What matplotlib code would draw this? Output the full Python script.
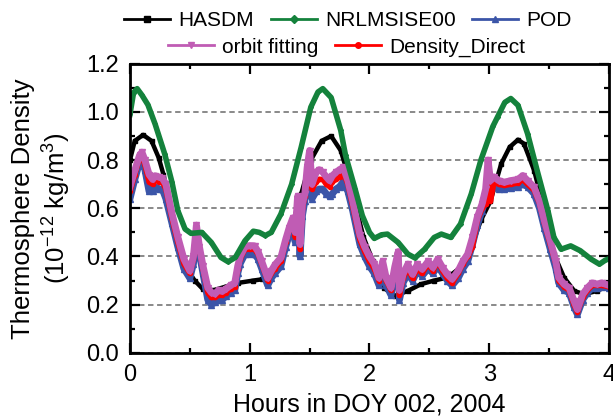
import matplotlib
matplotlib.use('Agg')
import matplotlib.pyplot as plt
from matplotlib.ticker import MultipleLocator

plt.rcParams['font.family'] = ['Liberation Sans', 'DejaVu Sans']
plt.rcParams['mathtext.default'] = 'regular'

# NRLMSISE00
t_nrl = [0.00, 0.03, 0.06, 0.10, 0.15, 0.21, 0.29, 0.35, 0.40, 0.46, 0.51, 0.60, 0.68,
         0.76, 0.82, 0.88, 0.96, 1.03, 1.08, 1.13, 1.18, 1.26, 1.35, 1.43, 1.51, 1.57,
         1.61, 1.68, 1.76, 1.80, 1.88, 1.94, 2.00, 2.04, 2.10, 2.15, 2.24, 2.32, 2.38,
         2.46, 2.54, 2.60, 2.68, 2.76, 2.85, 2.93, 3.03, 3.07, 3.13, 3.18, 3.24, 3.32,
         3.40, 3.49, 3.54, 3.60, 3.68, 3.76, 3.85, 3.92, 3.97, 4.00]
d_nrl = [0.99, 1.08, 1.097, 1.07, 1.03, 0.95, 0.826, 0.71, 0.59, 0.514, 0.496, 0.50, 0.458,
         0.396, 0.378, 0.396, 0.465, 0.505, 0.50, 0.487, 0.50, 0.576, 0.70, 0.854, 1.02, 1.083,
         1.097, 1.06, 0.924, 0.82, 0.68, 0.57, 0.50, 0.475, 0.49, 0.493, 0.458, 0.41, 0.394,
         0.43, 0.479, 0.493, 0.479, 0.535, 0.66, 0.80, 0.94, 0.98, 1.04, 1.056, 1.028, 0.91,
         0.757, 0.59, 0.479, 0.43, 0.444, 0.424, 0.389, 0.368, 0.385, 0.39]

# HASDM
t_has = [0.00, 0.04, 0.11, 0.18, 0.24, 0.28, 0.33, 0.40, 0.47, 0.54, 0.61, 0.70, 0.80,
         0.90, 1.03, 1.10, 1.18, 1.26, 1.35, 1.43, 1.51, 1.60, 1.68, 1.76, 1.82, 1.88,
         1.95, 2.03, 2.12, 2.21, 2.32, 2.43, 2.54, 2.65, 2.76, 2.85, 2.93, 3.01, 3.10,
         3.17, 3.24, 3.29, 3.375, 3.46, 3.54, 3.625, 3.71, 3.79, 3.90, 4.00]
d_has = [0.80, 0.88, 0.905, 0.88, 0.81, 0.74, 0.62, 0.47, 0.354, 0.30, 0.264, 0.26, 0.275,
         0.29, 0.30, 0.305, 0.32, 0.38, 0.52, 0.66, 0.80, 0.88, 0.90, 0.84, 0.74, 0.62,
         0.48, 0.38, 0.27, 0.236, 0.257, 0.285, 0.30, 0.3125, 0.354, 0.4375, 0.55, 0.63, 0.785,
         0.854, 0.885, 0.868, 0.757, 0.59, 0.41, 0.3125, 0.257, 0.243, 0.257, 0.28]

# orbit fitting / POD / Density_Direct share the same time stamps
t_obs = [0.00, 0.04, 0.08, 0.10, 0.125, 0.16, 0.19, 0.21, 0.24, 0.27, 0.30, 0.35, 0.40,
         0.45, 0.50, 0.53, 0.555, 0.58, 0.61, 0.65, 0.68, 0.71, 0.74, 0.77, 0.80, 0.84,
         0.875, 0.90, 0.92, 0.96, 1.00, 1.04, 1.07, 1.10, 1.15, 1.18, 1.21, 1.26, 1.30,
         1.33, 1.36, 1.38, 1.40, 1.42, 1.44, 1.46, 1.48, 1.50, 1.52, 1.555, 1.58, 1.61,
         1.64, 1.667, 1.69, 1.72, 1.75, 1.78, 1.82, 1.86, 1.92, 1.96, 2.00, 2.04, 2.08,
         2.11, 2.14, 2.18, 2.21, 2.24, 2.25, 2.28, 2.32, 2.36, 2.40, 2.44, 2.49, 2.53,
         2.57, 2.61, 2.65, 2.69, 2.74, 2.78, 2.82, 2.86, 2.90, 2.94, 2.97, 2.99, 3.01,
         3.04, 3.08, 3.125, 3.18, 3.24, 3.28, 3.32, 3.375, 3.42, 3.46, 3.51, 3.556, 3.58,
         3.625, 3.667, 3.708, 3.736, 3.78, 3.82, 3.86, 3.90, 3.94, 4.00]
d_fit = [0.69, 0.757, 0.82, 0.833, 0.80, 0.74, 0.72, 0.735, 0.73, 0.725, 0.70, 0.58, 0.48,
         0.39, 0.34, 0.40, 0.53, 0.44, 0.36, 0.27, 0.25, 0.245, 0.26, 0.255, 0.265, 0.28,
         0.29, 0.36, 0.40, 0.44, 0.445, 0.444, 0.42, 0.38, 0.31, 0.34, 0.365, 0.395, 0.47,
         0.52, 0.56, 0.50, 0.65, 0.45, 0.62, 0.66, 0.77, 0.84, 0.70, 0.75, 0.76, 0.75,
         0.73, 0.715, 0.735, 0.75, 0.76, 0.77, 0.715, 0.63, 0.49, 0.44, 0.40, 0.37, 0.31,
         0.38, 0.31, 0.27, 0.354, 0.42, 0.26, 0.326, 0.368, 0.326, 0.368, 0.347, 0.38, 0.354,
         0.389, 0.354, 0.326, 0.306, 0.34, 0.38, 0.41, 0.479, 0.5625, 0.618, 0.68, 0.80, 0.715,
         0.73, 0.715, 0.708, 0.715, 0.72, 0.736, 0.715, 0.6875, 0.63, 0.55, 0.465, 0.38, 0.3125,
         0.285, 0.27, 0.215, 0.18, 0.243, 0.27, 0.29, 0.285, 0.29, 0.28]
d_pod = [0.64, 0.72, 0.79, 0.80, 0.76, 0.67, 0.67, 0.69, 0.68, 0.68, 0.64, 0.54, 0.44,
         0.35, 0.31, 0.37, 0.49, 0.41, 0.33, 0.22, 0.20, 0.21, 0.22, 0.22, 0.235, 0.25,
         0.26, 0.33, 0.37, 0.41, 0.41, 0.41, 0.39, 0.35, 0.28, 0.31, 0.33, 0.36, 0.44,
         0.49, 0.53, 0.46, 0.60, 0.40, 0.57, 0.63, 0.73, 0.80, 0.64, 0.67, 0.68, 0.68,
         0.66, 0.65, 0.66, 0.68, 0.69, 0.71, 0.67, 0.59, 0.45, 0.40, 0.36, 0.33, 0.28,
         0.34, 0.28, 0.24, 0.32, 0.38, 0.22, 0.29, 0.33, 0.30, 0.34, 0.32, 0.35, 0.33,
         0.36, 0.33, 0.30, 0.28, 0.31, 0.35, 0.38, 0.45, 0.53, 0.59, 0.64, 0.75, 0.68,
         0.69, 0.68, 0.68, 0.685, 0.69, 0.70, 0.69, 0.66, 0.60, 0.52, 0.43, 0.35, 0.29,
         0.26, 0.25, 0.19, 0.16, 0.22, 0.25, 0.27, 0.27, 0.275, 0.27]
d_dir = [0.67, 0.74, 0.81, 0.82, 0.78, 0.71, 0.70, 0.72, 0.71, 0.71, 0.68, 0.56, 0.46,
         0.37, 0.33, 0.39, 0.52, 0.43, 0.35, 0.25, 0.23, 0.23, 0.24, 0.24, 0.25, 0.265,
         0.275, 0.35, 0.39, 0.43, 0.43, 0.43, 0.41, 0.37, 0.30, 0.33, 0.35, 0.38, 0.46,
         0.51, 0.55, 0.48, 0.63, 0.43, 0.60, 0.65, 0.75, 0.83, 0.68, 0.71, 0.72, 0.72,
         0.70, 0.69, 0.71, 0.72, 0.73, 0.75, 0.70, 0.61, 0.47, 0.42, 0.38, 0.35, 0.30,
         0.36, 0.30, 0.26, 0.34, 0.40, 0.24, 0.31, 0.35, 0.31, 0.35, 0.33, 0.37, 0.34,
         0.38, 0.34, 0.31, 0.29, 0.33, 0.37, 0.40, 0.44, 0.55, 0.60, 0.62, 0.78, 0.63,
         0.71, 0.70, 0.695, 0.70, 0.705, 0.72, 0.70, 0.675, 0.62, 0.54, 0.45, 0.37, 0.30,
         0.275, 0.26, 0.20, 0.17, 0.23, 0.26, 0.28, 0.28, 0.28, 0.275]

c_has = 'black'
c_nrl = '#14823c'
c_pod = '#3b55a8'
c_fit = '#c05cb4'
c_dir = '#ff0000'

fig = plt.figure(figsize=(6.13, 4.2), dpi=100)
ax = fig.add_axes([0.212, 0.160, 0.7815, 0.688])

ax.yaxis.grid(True, linestyle=(0, (3, 2)), color='#808080', linewidth=1.3)
ax.set_axisbelow(True)

l_has, = ax.plot(t_has, d_has, color=c_has, lw=3.2, marker='s', ms=3, label='HASDM')
l_pod, = ax.plot(t_obs, d_pod, color=c_pod, lw=5, marker='^', ms=4.5, label='POD')
l_dir, = ax.plot(t_obs, d_dir, color=c_dir, lw=4, marker='o', ms=3, label='Density_Direct')
l_fit, = ax.plot(t_obs, d_fit, color=c_fit, lw=5, marker='v', ms=4.5, label='orbit fitting')
l_nrl, = ax.plot(t_nrl, d_nrl, color=c_nrl, lw=4, marker='D', ms=2, label='NRLMSISE00')

ax.set_xlim(0, 4)
ax.set_ylim(0, 1.2)
ax.xaxis.set_major_locator(MultipleLocator(1))
ax.xaxis.set_minor_locator(MultipleLocator(0.5))
ax.yaxis.set_minor_locator(MultipleLocator(0.1))
ax.set_yticks([0.0, 0.2, 0.4, 0.6, 0.8, 1.0, 1.2])
ax.yaxis.set_major_formatter(plt.FormatStrFormatter('%.1f'))
ax.tick_params(which='both', direction='in', top=True, right=True, labelsize=17, width=1.6)
ax.tick_params(which='major', length=7)
ax.tick_params(which='minor', length=3.8)
ax.tick_params(axis='y', which='major', pad=8)
ax.tick_params(axis='x', which='major', pad=8)
for s in ax.spines.values():
    s.set_linewidth(2)

ax.set_xlabel('Hours in DOY 002, 2004', fontsize=18, labelpad=4.5)
ax.set_ylabel('Thermosphere Density\n(10$^{-12}$ kg/m$^3$)', fontsize=18.5, labelpad=9,
              linespacing=1.25)

leg1 = fig.legend(handles=[l_has, l_nrl, l_pod], loc='upper center', ncol=3,
                  bbox_to_anchor=(0.568, 1.018), frameon=False, fontsize=15,
                  handlelength=2.2, columnspacing=0.8, handletextpad=0.4)
leg2 = fig.legend(handles=[l_fit, l_dir], loc='upper center', ncol=2,
                  bbox_to_anchor=(0.566, 0.955), frameon=False, fontsize=15,
                  handlelength=2.2, columnspacing=0.8, handletextpad=0.4)
for lg in (leg1, leg2):
    for h in lg.legend_handles:
        h.set_linewidth(2)
        h.set_markersize(4)

fig.savefig('out.png', dpi=100)
